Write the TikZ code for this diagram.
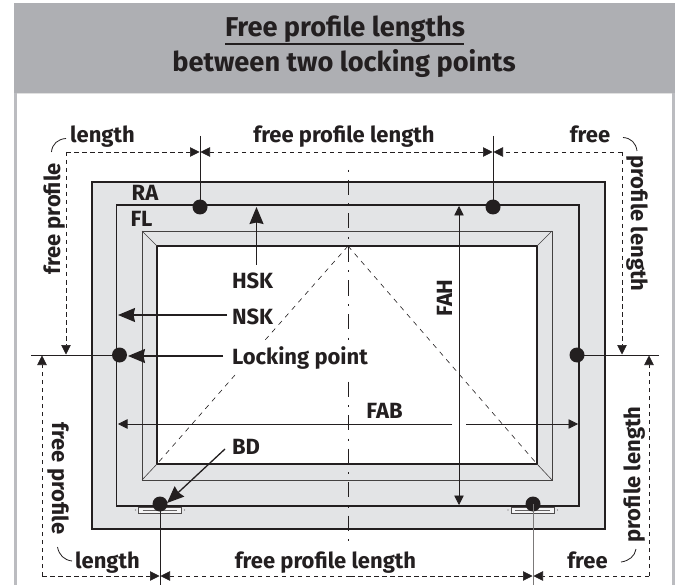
\documentclass[tikz,border=0pt]{standalone}
\usepackage{fontspec}
\setmainfont{Fira Sans}
\usetikzlibrary{arrows.meta}
\definecolor{ink}{HTML}{231F20}
\definecolor{framegray}{HTML}{E3E4E6}
\definecolor{headgray}{HTML}{AEAFB3}
\definecolor{bargray}{HTML}{BBBCC0}
\tikzset{
  x=1pt,y=-1pt,
  lab/.style={inner sep=0pt,outer sep=0pt,anchor=base,text=ink,font=\fontsize{22}{24}\selectfont\bfseries},
  titletext/.style={inner sep=0pt,outer sep=0pt,anchor=base,text=ink,font=\fontsize{27.2}{30}\selectfont\bfseries},
  thick frame/.style={draw=ink,line width=1.1pt},
  thin frame/.style={draw=ink!85,line width=0.8pt},
  dotnode/.style={circle,fill=ink,draw=none,minimum size=15pt,inner sep=0pt,outer sep=0pt},
  dashdim/.style={draw=ink,line width=0.7pt,dash pattern=on 4.5pt off 3.5pt},
  dimline/.style={draw=ink,line width=0.75pt},
  tip/.style={-{Triangle[length=9.5pt,width=9.5pt]}},
  bigtip/.style={draw=ink,line width=1.3pt,-{Stealth[length=17pt,width=14pt,inset=1.5pt]}},
  diag/.style={draw=ink,line width=0.6pt,dash pattern=on 5pt off 5pt},
  hingebox/.style={draw=ink!80,line width=0.7pt,fill=framegray!40!white},
  swoosh/.style={draw=ink,line width=0.8pt},
  axis/.style={draw=ink,line width=0.7pt,dash pattern=on 2pt off 8pt on 15pt off 8.5pt},
}
\begin{document}
\begin{tikzpicture}
\useasboundingbox (0,0) rectangle (677,585);
\fill[white] (0,0) rectangle (677,585);
% panel
\fill[headgray] (14,3) rectangle (674.5,93);
\fill[bargray] (14,93) rectangle (16.5,585);
\fill[bargray] (672,93) rectangle (674.5,585);
\fill[white!88!black] (16.5,93) rectangle (672,94);
% window
\path[fill=framegray,thick frame] (92,182) rectangle (605,529);
\path[thick frame] (116.5,205) rectangle (579,506);
\path[thin frame] (142,231) rectangle (552,480);
\path[fill=white,thick frame] (157,246) rectangle (537,464);
\foreach \a/\b/\c/\d in {142/231/157/246,552/231/537/246,142/480/157/464,552/480/537/464}
  \draw[ink!85,line width=0.6pt] (\a,\b) -- (\c,\d);
% hinges
\foreach \l/\r in {138.5/181,511/554}{
  \path[hingebox] (\l,507) rectangle (\r,513);
  \draw[ink!70,line width=0.8pt] (\l+4,510) -- (\r-4,510);
  \fill[ink!70] (\l-3,510) circle (0.6pt) (\r+3.5,510) circle (0.6pt);
}
% centre line and diagonals
\coordinate (ctop) at (348,170);
\coordinate (cmid1) at (348,340);
\coordinate (cmid2) at (348,381.5);
\coordinate (cbot) at (348,541);
\coordinate (apex) at (348,246);
\coordinate (gl) at (157,464);
\coordinate (gr) at (537,464);
\coordinate (dgap1) at (262.5,343);
\coordinate (dgap2) at (235,375);
\path[axis] (ctop) -- (cmid1);
\path[axis,dash phase=10pt] (cmid2) -- (cbot);
\path[diag] (apex) -- (dgap1);
\path[diag] (dgap2) -- (gl);
\path[diag] (apex) -- (gr);
% locking points
\node[dotnode] (d1) at (200,207) {};
\node[dotnode] (d2) at (493,207) {};
\node[dotnode] (d3) at (119.5,355) {};
\node[dotnode] (d4) at (577,355) {};
\node[dotnode] (d5) at (160,504) {};
\node[dotnode] (d6) at (533,504) {};
% free ends
\coordinate (t1) at (200,136);
\coordinate (t2) at (493,136);
\coordinate (b1) at (160,585);
\coordinate (b2) at (533,585);
\coordinate (l1) at (31,355);
\coordinate (r1) at (659,355);
\coordinate (ctl) at (66,152);
\coordinate (ctr) at (622,152);
\coordinate (cbl) at (42,576);
\coordinate (cbr) at (649,576);
\path[dimline] (t1) -- (d1.center);
\path[dimline] (t2) -- (d2.center);
\path[dimline] (b1) -- (d5.center);
\path[draw=ink!60,line width=1pt] (b2) -- (d6.center);
\path[dimline] (l1) -- (d3.center);
\path[dimline] (r1) -- (d4.center);
% dashed dimension lines
\path[dashdim,tip] (ctl) -- (199.5,152);
\path[dashdim,tip] (ctl) -- (66,354.5);
\path[dashdim,tip] (ctr) -- (493.5,152);
\path[dashdim,tip] (ctr) -- (622,354.5);
\path[dashdim,tip] (cbl) -- (42,355.5);
\path[dashdim,tip] (cbl) -- (159.5,576);
\path[dashdim,tip] (cbr) -- (649,355.5);
\path[dashdim,tip] (cbr) -- (533.5,576);
\coordinate (tmid) at (350,152);
\coordinate (bmid) at (350,576);
\path[dashdim,tip] (tmid) -- (200.5,152);
\path[dashdim,tip] (tmid) -- (492.5,152);
\path[dashdim,tip] (bmid) -- (160.5,576);
\path[dashdim,tip] (bmid) -- (532.5,576);
% swooshes
\path[swoosh] (51.5,152) .. controls (52,144) and (58,139) .. (66,138.5);
\path[swoosh] (623,137.5) .. controls (631,138) and (636,143) .. (637,151);
\path[swoosh] (57.5,547) .. controls (59,555) and (64,560) .. (72,561);
\path[swoosh] (621,562) .. controls (629,561) and (635,556) .. (636,549);
% title
\node[titletext] (title1) at (345,37) {Free profile lengths};
\node[titletext] (title2) at (344,72) {between two locking points};
\coordinate (ulL) at (225,44);
\coordinate (ulR) at (464,44);
\draw[ink,line width=1.1pt] (ulL) -- (ulR);
% labels
\node[lab] (ltop1) at (102.5,143) {length};
\node[lab] (ltop2) at (344,143) {free profile length};
\node[lab] (ltop3) at (590,143) {free};
\node[lab,rotate=90] (lleft1) at (60,219) {free profile};
\node[lab,rotate=-90] (lright1) at (631,223.5) {profile length};
\node[lab,rotate=-90] (lleft2) at (52,478.5) {free profile};
\node[lab,rotate=90] (lright2) at (640,474.5) {profile length};
\node[lab] (lbot1) at (107.5,568) {length};
\node[lab] (lbot2) at (325.5,568) {free profile length};
\node[lab] (lbot3) at (587.5,568) {free};
\node[lab] (ra) at (145,201) {RA};
\node[lab] (fl) at (141.5,227) {FL};
\node[lab,anchor=base west] (hsk) at (232,288) {HSK};
\node[lab,anchor=base west] (nsk) at (232,324) {NSK};
\node[lab,anchor=base west] (lock) at (232,364) {Locking point};
\node[lab,anchor=base west] (bd) at (232,454) {BD};
\node[lab] (fab) at (384.5,418) {FAB};
\node[lab,rotate=90] (fah) at (452,298) {FAH};
% leader arrows
\coordinate (hskA) at (256.5,265);
\coordinate (hskB) at (256.5,207);
\coordinate (nskA) at (227,315);
\coordinate (nskB) at (118,315);
\coordinate (lockA) at (223,356);
\coordinate (lockB) at (128,356);
\coordinate (bdA) at (225,449);
\coordinate (bdB) at (167,503);
\path[bigtip] (hskA) -- (hskB);
\path[bigtip] (nskA) -- (nskB);
\path[bigtip] (lockA) -- (lockB);
\path[bigtip] (bdA) -- (bdB);
% FAB / FAH
\coordinate (fabL) at (452,424);
\coordinate (fabR) at (466,424);
\coordinate (fahT) at (459,206);
\coordinate (fahB) at (459,505);
\path[dimline,tip] (fabL) -- (118,424);
\path[dimline,tip] (fabR) -- (578,424);
\path[dimline,{Triangle[length=9.5pt,width=9.5pt]}-{Triangle[length=9.5pt,width=9.5pt]}] (fahT) -- (fahB);
\end{tikzpicture}
\end{document}
